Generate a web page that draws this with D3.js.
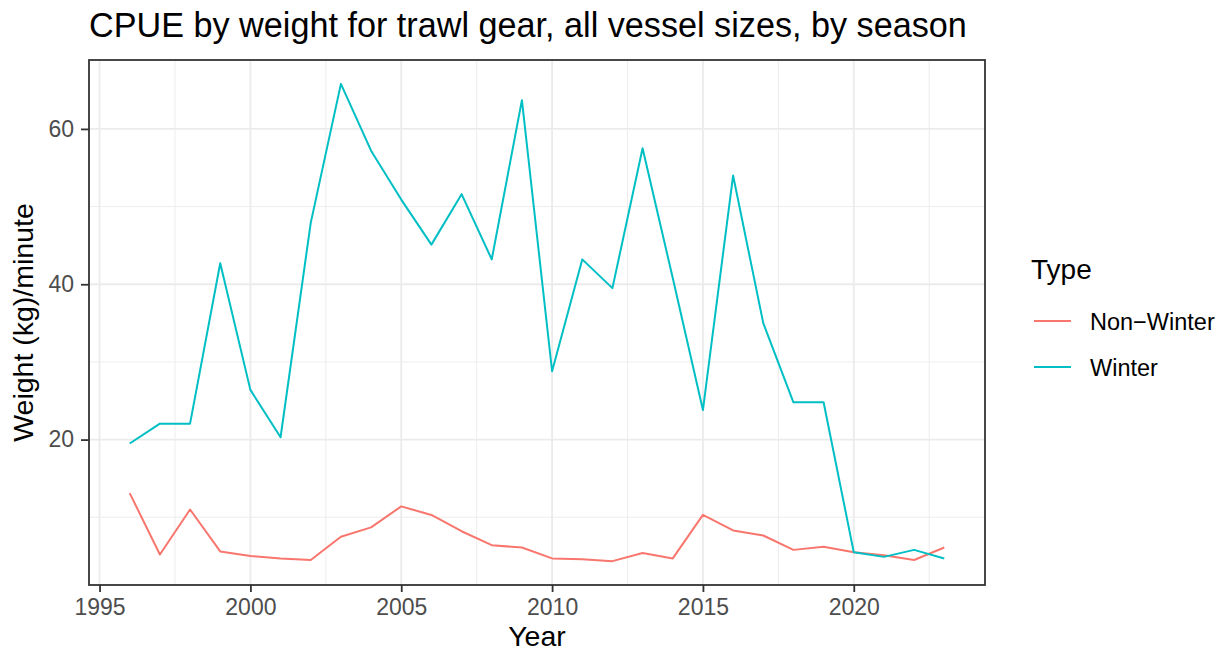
<!DOCTYPE html>
<html><head><meta charset="utf-8">
<script src="https://cdn.jsdelivr.net/npm/d3@7/dist/d3.min.js"></script>
<style>body{margin:0;background:#fff;} text{font-family:"Liberation Sans",Arial,sans-serif;}</style>
</head><body>
<svg id="c" width="1225" height="656"></svg>
<script>
const years = [1996,1997,1998,1999,2000,2001,2002,2003,2004,2005,2006,2007,2008,2009,2010,2011,2012,2013,2014,2015,2016,2017,2018,2019,2020,2021,2022,2023];
const nonWinter = [13.1,5.2,11.0,5.6,5.0,4.7,4.5,7.5,8.7,11.4,10.3,8.2,6.4,6.1,4.7,4.6,4.35,5.4,4.7,10.3,8.3,7.65,5.8,6.2,5.5,5.1,4.5,6.1];
const winter = [19.5,22.05,22.05,42.7,26.4,20.3,47.9,65.8,57.2,50.9,45.1,51.6,43.2,63.7,28.8,43.2,39.5,57.5,40.8,23.8,54.0,35.0,24.8,24.8,5.5,4.9,5.8,4.7];
const seriesNames = ["Non\u2212Winter","Winter"];
const seriesColors = ["#F8766D","#00BFC4"];
const xTicks = [1995,2000,2005,2010,2015,2020];
const xMinor = [1997.5,2002.5,2007.5,2012.5,2017.5,2022.5];
const yTicks = [20,40,60];
const yMinor = [10,30,50];

const svg = d3.select("#c");
const L=89, R=985, T=60, B=585;
const allVals = nonWinter.concat(winter);
const ymin=d3.min(allVals), ymax=d3.max(allVals);
const ypad=(ymax-ymin)*0.05;
const xmin=d3.min(years), xmax=d3.max(years), xpad=(xmax-xmin)*0.05;
const x=d3.scaleLinear().domain([xmin-xpad,xmax+xpad]).range([L,R]);
const y=d3.scaleLinear().domain([ymin-ypad,ymax+ypad]).range([B,T]);

const g=svg.append("g");
g.selectAll(".vx").data(xMinor).join("line").attr("x1",d=>x(d)).attr("x2",d=>x(d)).attr("y1",T).attr("y2",B).attr("stroke","#ebebeb").attr("stroke-width",0.9);
g.selectAll(".hy").data(yMinor).join("line").attr("y1",d=>y(d)).attr("y2",d=>y(d)).attr("x1",L).attr("x2",R).attr("stroke","#ebebeb").attr("stroke-width",0.9);
g.selectAll(".vX").data(xTicks).join("line").attr("x1",d=>x(d)).attr("x2",d=>x(d)).attr("y1",T).attr("y2",B).attr("stroke","#ebebeb").attr("stroke-width",1.8);
g.selectAll(".hY").data(yTicks).join("line").attr("y1",d=>y(d)).attr("y2",d=>y(d)).attr("x1",L).attr("x2",R).attr("stroke","#ebebeb").attr("stroke-width",1.8);

const line=d3.line().x((d,i)=>x(years[i])).y(d=>y(d));
[nonWinter,winter].forEach((s,i)=>{
  g.append("path").attr("d",line(s)).attr("fill","none").attr("stroke",seriesColors[i]).attr("stroke-width",2).attr("stroke-linejoin","round");
});

g.append("rect").attr("x",L).attr("y",T).attr("width",R-L).attr("height",B-T).attr("fill","none").attr("stroke","#333333").attr("stroke-width",1.8);

const xa=svg.append("g").attr("transform",`translate(0,${B})`).call(d3.axisBottom(x).tickValues(xTicks).tickFormat(d3.format("d")).tickSize(7).tickPadding(7));
const ya=svg.append("g").attr("transform",`translate(${L},0)`).call(d3.axisLeft(y).tickValues(yTicks).tickSize(8).tickPadding(7));
[xa,ya].forEach(a=>{a.select(".domain").remove();a.selectAll(".tick line").attr("stroke","#333333").attr("stroke-width",1.8);a.selectAll(".tick text").attr("fill","#4d4d4d").style("font-size","23px").style("font-family","'Liberation Sans',Arial,sans-serif");});

svg.append("text").attr("x",89).attr("y",37).text("CPUE by weight for trawl gear, all vessel sizes, by season").style("font-size","34.2px").attr("fill","#000");
svg.append("text").attr("x",(L+R)/2).attr("y",646).attr("text-anchor","middle").text("Year").style("font-size","28.5px");
svg.append("text").attr("transform",`translate(33,${(T+B)/2}) rotate(-90)`).attr("text-anchor","middle").text("Weight (kg)/minute").style("font-size","28.5px");

svg.append("text").attr("x",1031).attr("y",279).text("Type").style("font-size","28px");
seriesNames.forEach((n,i)=>{
  const yy=321+i*46;
  svg.append("line").attr("x1",1034).attr("x2",1071).attr("y1",yy).attr("y2",yy).attr("stroke",seriesColors[i]).attr("stroke-width",2.2);
  svg.append("text").attr("x",1090).attr("y",yy+9).text(n).style("font-size","23.5px");
});
</script>
</body></html>
